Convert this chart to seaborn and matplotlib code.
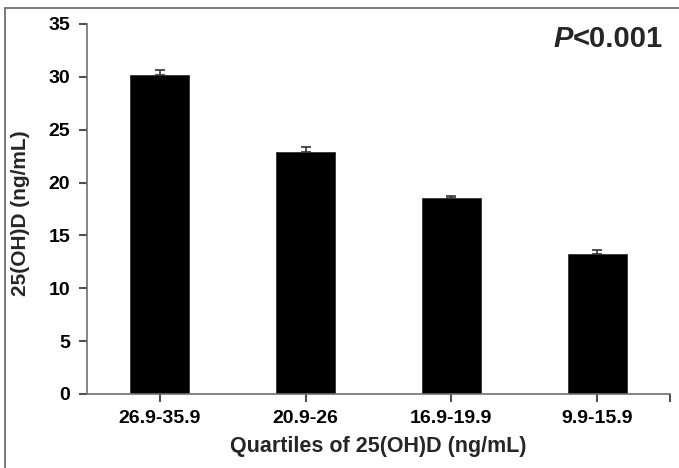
import matplotlib
matplotlib.use("Agg")
import matplotlib.pyplot as plt
import seaborn as sns
import pandas as pd
from matplotlib.patches import Rectangle

categories = ["26.9-35.9", "20.9-26", "16.9-19.9", "9.9-15.9"]
means = [30.15, 22.85, 18.55, 13.2]
errors = [0.5, 0.5, 0.2, 0.38]
yticks = [0, 5, 10, 15, 20, 25, 30, 35]

sns.set_theme(style="ticks")
plt.rcParams['font.family'] = ['Liberation Sans', 'DejaVu Sans']
plt.rcParams['font.weight'] = 'bold'

df = pd.DataFrame({"q": categories, "v": means})

fig = plt.figure(figsize=(6.79, 4.68), dpi=100)
ax = fig.add_axes([87/679, 1 - 394/468, (670 - 87)/679, (394 - 24)/468])

sns.barplot(data=df, x="q", y="v", color="black", saturation=1, width=0.405,
            errorbar=None, ax=ax, edgecolor="#333333", linewidth=0.6)
ax.errorbar(range(len(categories)), means, yerr=[[0]*len(errors), errors],
            fmt="none", ecolor="#333333", elinewidth=1.2, capsize=3.5, capthick=1.2)

ax.set_xlim(-0.5, 3.5)
ax.set_ylim(0, 35)
ax.set_yticks(yticks)
ax.set_xticks(range(len(categories)))
ax.set_xticks([3.5], minor=True)
ax.set_xticklabels(categories, fontsize=14, fontweight='bold')
ax.set_yticklabels([str(t) for t in yticks], fontsize=14, fontweight='bold')

for s in ["top", "right"]:
    ax.spines[s].set_visible(False)
for s in ["left", "bottom"]:
    ax.spines[s].set_color("#707070")
    ax.spines[s].set_linewidth(1.2)
ax.tick_params(axis="both", which="both", direction="out", length=6, width=1.5,
               color="#505050", labelcolor="black", bottom=True, left=True,
               top=False, right=False)
ax.tick_params(axis="y", pad=6)
ax.tick_params(axis="x", which="major", pad=5.5)
for tk in ax.xaxis.get_major_ticks() + ax.xaxis.get_minor_ticks() + ax.yaxis.get_major_ticks():
    tk.tick1line.set_visible(True)

ax.set_xlabel("Quartiles of 25(OH)D (ng/mL)", fontsize=15.5, fontweight='bold')
ax.set_ylabel("25(OH)D (ng/mL)", fontsize=15, fontweight='bold')
ax.xaxis.set_label_coords(0.5, (394 - 436) / 370)
ax.yaxis.set_label_coords((30 - 87) / 583, 0.488)

ptxt = fig.text(553/679, 1 - 53/468, "P", fontsize=21, fontweight='bold',
                fontstyle='italic', ha='left', va='bottom')
ax.annotate("<0.001", xy=(1, 0), xycoords=ptxt, ha='left', va='bottom',
            fontsize=21, fontweight='bold')

fig.add_artist(Rectangle((5/679, -0.05), 1.2, 1 - 8/468 + 0.05,
                         transform=fig.transFigure, fill=False,
                         edgecolor="#707070", linewidth=1.3, clip_on=False))

fig.savefig("out.png", dpi=100)
